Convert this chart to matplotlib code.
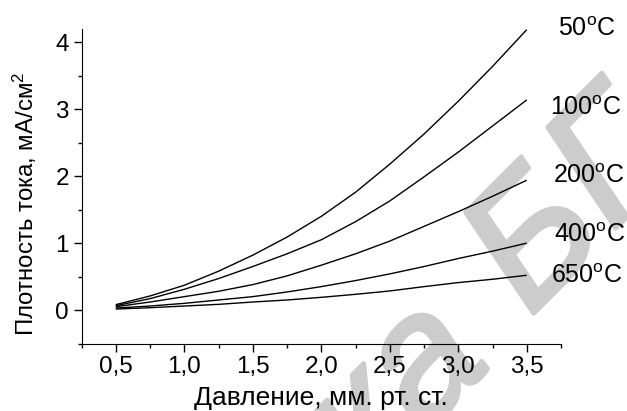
import matplotlib
matplotlib.use("Agg")
import matplotlib.pyplot as plt
import matplotlib.patheffects as pe

plt.rcParams['font.family'] = ['Liberation Sans', 'DejaVu Sans']
plt.rcParams['mathtext.fontset'] = 'custom'
plt.rcParams['mathtext.rm'] = 'Liberation Sans'
plt.rcParams['mathtext.default'] = 'rm'

pressure = [0.5, 0.75, 1.0, 1.25, 1.5, 1.75, 2.0, 2.25, 2.5, 2.75, 3.0, 3.25, 3.5]
j_50 = [0.08, 0.21, 0.37, 0.58, 0.82, 1.09, 1.40, 1.76, 2.18, 2.63, 3.12, 3.64, 4.19]
j_100 = [0.065, 0.17, 0.31, 0.47, 0.65, 0.84, 1.05, 1.32, 1.63, 1.99, 2.36, 2.75, 3.14]
j_200 = [0.05, 0.12, 0.20, 0.28, 0.38, 0.51, 0.67, 0.84, 1.03, 1.25, 1.47, 1.70, 1.94]
j_400 = [0.03, 0.06, 0.10, 0.15, 0.20, 0.27, 0.35, 0.44, 0.54, 0.65, 0.77, 0.88, 1.0]
j_650 = [0.015, 0.035, 0.06, 0.085, 0.12, 0.15, 0.19, 0.235, 0.285, 0.35, 0.41, 0.46, 0.52]
series = [j_50, j_100, j_200, j_400, j_650]
labels = ['50', '100', '200', '400', '650']
label_x = [3.73, 3.67, 3.69, 3.70, 3.68]
label_y = [4.20, 3.02, 2.00, 1.12, 0.51]
x_major = [0.5, 1.0, 1.5, 2.0, 2.5, 3.0, 3.5]
x_major_labels = ['0,5', '1,0', '1,5', '2,0', '2,5', '3,0', '3,5']
x_minor = [0.25, 0.75, 1.25, 1.75, 2.25, 2.75, 3.25, 3.75]
y_major = [0, 1, 2, 3, 4]
y_minor = [-0.5, 0.5, 1.5, 2.5, 3.5]

W, H = 627, 411
fig = plt.figure(figsize=(W / 100, H / 100), dpi=100)
ax = fig.add_axes([81.5 / W, 1 - 343.5 / H, (561 - 81.5) / W, (343.5 - 29) / H])
ax.patch.set_alpha(0)

for ys in series:
    ax.plot(pressure, ys, color='black', lw=1.0, solid_capstyle='butt')

ax.set_xlim(0.25, 3.75)
ax.set_ylim(-0.5, 4.2)
ax.spines['top'].set_visible(False)
ax.spines['right'].set_visible(False)
ax.set_xticks(x_major)
ax.set_xticklabels(x_major_labels)
ax.set_xticks(x_minor, minor=True)
ax.set_yticks(y_major)
ax.set_yticks(y_minor, minor=True)
ax.tick_params(axis='both', which='major', length=6, width=1, labelsize=17.5, pad=3)
ax.tick_params(axis='both', which='minor', length=3, width=1)
ax.set_xlabel('Давление, мм. рт. ст.', fontsize=19, labelpad=5.5)
ax.set_ylabel('Плотность тока, мА/см$^2$', fontsize=17.3)
ax.yaxis.set_label_coords(-0.089, 0.445)

for name, lx, ly in zip(labels, label_x, label_y):
    ax.text(lx, ly, name + '$^{\\mathrm{o}}$C', fontsize=18, ha='left', va='center', clip_on=False)

# Watermark
wm = dict(color='#cccccc', fontsize=125, style='italic', rotation=45,
          rotation_mode='anchor', zorder=-1, va='baseline',
          path_effects=[pe.withStroke(linewidth=3.5, foreground='#cccccc')])
fig.text(530 / W, 1 - 317 / H, 'Б', ha='left', **wm)
fig.text(612 / W, 1 - 232 / H, 'Г', ha='left', **wm)
fig.text(493 / W, 1 - 364 / H, 'ка', ha='right', **wm)

fig.savefig('out.png', dpi=100)
